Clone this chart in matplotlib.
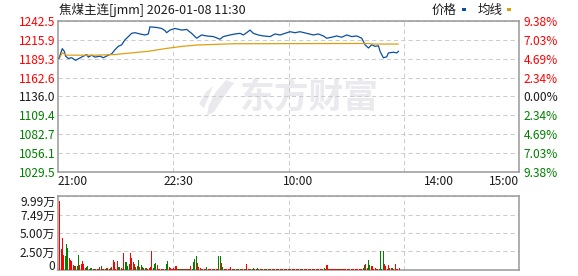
import numpy as np
import matplotlib
matplotlib.use('Agg')
import matplotlib.pyplot as plt
from matplotlib.patches import Rectangle, Polygon

plt.rcParams['font.family'] = ['Noto Sans CJK SC', 'DejaVu Sans']

# ---------------- data ----------------
title = '焦煤主连[jmm] 2026-01-08 11:30'
pre_close = 1136.0
price_ticks = [1242.5, 1215.9, 1189.3, 1162.6, 1136.0, 1109.4, 1082.7, 1056.1, 1029.5]
price_labels = ['1242.5', '1215.9', '1189.3', '1162.6', '1136.0', '1109.4', '1082.7', '1056.1', '1029.5']
pct_labels = ['9.38%', '7.03%', '4.69%', '2.34%', '0.00%', '2.34%', '4.69%', '7.03%', '9.38%']
time_ticks = [0, 90, 180, 285, 345]          # minutes since 21:00 (trading minutes)
time_labels = ['21:00', '22:30', '10:00', '14:00', '15:00']
total_minutes = 345

vol_ticks = [0, 2.50, 4.995, 7.4925, 9.99]
vol_labels = ['0', '2.50万', '5.00万', '7.49万', '9.99万']

price_min = [0.75, 3.2, 4.7, 5.7, 7.7, 10.2, 13.2, 15.7, 19.0, 21.5,
             22.7, 25.2, 27.7, 31.4, 33.9, 37.7, 40.2, 42.7, 45.1, 47.7,
             50.1, 53.9, 55.1, 57.6, 61.4, 65.1, 67.6, 68.8, 73.8, 77.6,
             80.1, 81.3, 83.8, 87.6, 92.6, 96.3, 100.0, 102.5, 103.8, 107.5,
             111.3, 116.3, 121.2, 123.7, 128.7, 132.5, 136.2, 138.7, 141.2, 143.7,
             146.2, 149.9, 153.7, 158.7, 162.4, 166.2, 169.9, 173.6, 177.4, 181.1,
             186.1, 191.1, 194.8, 198.6, 201.1, 204.8, 208.6, 212.3, 216.1, 219.8,
             223.6, 227.3, 229.8, 232.3, 234.8, 237.3, 239.8, 241.0, 243.5, 246.0,
             247.3, 251.0, 253.5, 254.8]
price_val = [1189.7, 1203.5, 1199.8, 1192.9, 1189.7, 1190.7, 1187.0, 1189.7, 1192.9, 1195.2,
             1191.5, 1194.3, 1191.5, 1192.9, 1190.7, 1194.3, 1196.2, 1202.1, 1206.7, 1209.0,
             1215.9, 1222.8, 1225.1, 1226.0, 1224.2, 1222.8, 1224.2, 1234.3, 1233.4, 1232.0,
             1228.8, 1226.0, 1229.7, 1232.0, 1229.7, 1230.6, 1225.1, 1220.5, 1218.2, 1222.8,
             1221.4, 1220.5, 1216.8, 1220.5, 1222.8, 1224.2, 1225.1, 1222.8, 1226.0, 1229.7,
             1225.1, 1222.8, 1221.4, 1220.5, 1224.2, 1222.8, 1225.1, 1227.4, 1226.0, 1227.4,
             1225.1, 1222.8, 1224.2, 1221.4, 1218.2, 1219.6, 1221.4, 1219.6, 1222.8, 1220.5,
             1221.4, 1218.2, 1209.0, 1204.4, 1209.0, 1206.7, 1207.6, 1199.8, 1190.6, 1192.0,
             1197.5, 1198.4, 1197.5, 1199.8]

avg_min = [1.5, 3.2, 6.5, 27.7, 42.7, 50.0, 67.6, 80.0, 92.6, 104.0, 131.0, 175.0, 232.0, 236.0, 254.5]
avg_val = [1191.5, 1197.6, 1194.3, 1194.3, 1195.2, 1196.6, 1199.8, 1203.5, 1206.7, 1208.6,
           1210.4, 1210.6, 1210.8, 1210.0, 1210.0]

# per-minute volume (万) and direction (1 = up/red, 0 = down/green)
vol = [9.30, 2.81, 4.31, 2.04, 1.91, 3.54, 2.95, 1.59, 1.36, 1.27, 0.68, 0.54, 0.54, 0.54, 2.04, 0.68,
       0.82, 1.23, 0.82, 0.23, 0.36, 0.54, 0.14, 0.23, 0.23, 0.14, 0.14, 0.14, 0.14, 0.14, 0.36, 0.54,
       0.14, 0.14, 0.14, 0.23, 0.23, 0.14, 0.23, 0.36, 1.36, 1.14, 0.14, 1.23, 0.36, 0.36, 0.23, 0.14,
       2.27, 1.14, 1.14, 0.54, 0.82, 2.27, 1.59, 1.14, 0.82, 0.36, 0.54, 1.36, 0.36, 0.68, 0.36, 0.23,
       0.23, 0.32, 0.14, 0.23, 0.45, 2.59, 0.23, 0.82, 1.00, 0.68, 0.14, 0.14, 0.14, 0.14, 0.14, 0.14,
       0.82, 1.23, 0.36, 0.23, 0.14, 0.23, 0.14, 0.54, 0.14, 0.14, 0.14, 0.14, 0.14, 0.14, 0.14, 0.14,
       0.14, 0.14, 0.54, 0.14, 1.14, 1.50, 1.91, 1.00, 0.36, 0.23, 0.14, 0.14, 0.14, 0.14, 0.36, 0.14,
       0.14, 0.14, 0.14, 0.14, 0.14, 0.14, 0.14, 1.91, 1.91, 1.00, 0.36, 0.14, 0.14, 0.14, 0.14, 0.14,
       0.36, 0.14, 0.14, 0.14, 0.14, 0.14, 0.14, 0.14, 0.14, 0.14, 0.14, 0.14, 0.82, 0.14, 0.14, 0.14,
       0.14, 0.23, 0.14, 0.14, 0.23, 0.14, 0.14, 0.14, 0.14, 0.14, 0.14, 0.14, 0.14, 0.14, 0.14, 0.14,
       0.14, 0.14, 0.14, 0.14, 0.14, 0.14, 0.14, 0.14, 0.14, 0.14, 0.14, 0.14, 0.14, 0.14, 0.14, 0.14,
       0.14, 0.14, 0.14, 0.14, 0.14, 0.14, 0.14, 0.14, 0.14, 0.14, 0.14, 0.14, 0.14, 0.14, 0.14, 0.14,
       0.14, 0.14, 0.14, 0.14, 0.14, 0.14, 0.23, 0.14, 0.68, 0.14, 0.14, 0.14, 0.14, 0.14, 0.14, 0.14,
       0.14, 0.14, 0.14, 0.14, 0.14, 0.14, 0.14, 0.14, 0.14, 0.14, 0.14, 0.14, 0.14, 0.14, 0.14, 0.14,
       0.14, 0.14, 0.14, 0.23, 0.68, 0.82, 0.32, 1.36, 0.68, 0.54, 0.54, 0.14, 0.32, 0.14, 0.14, 0.14,
       2.50, 0.14, 2.50, 0.82, 0.54, 0.14, 0.68, 0.32, 0.32, 0.23, 0.14, 0.82, 0.14, 0.14, 0.23]
vol_up = [1, 1, 1, 1, 0, 0, 0, 1, 1, 1, 1, 1, 0, 0, 0, 1,
          1, 1, 1, 1, 0, 0, 1, 0, 0, 1, 0, 1, 1, 0, 1, 0,
          1, 1, 1, 0, 1, 1, 0, 1, 1, 1, 1, 1, 0, 0, 1, 1,
          1, 0, 0, 0, 0, 1, 1, 1, 1, 0, 0, 0, 1, 0, 0, 1,
          0, 1, 0, 1, 1, 1, 0, 0, 0, 1, 1, 1, 1, 0, 1, 1,
          0, 0, 1, 1, 1, 1, 1, 1, 0, 0, 1, 0, 1, 0, 1, 1,
          1, 0, 1, 0, 0, 0, 0, 1, 1, 1, 0, 1, 1, 1, 0, 1,
          1, 1, 1, 0, 1, 1, 1, 0, 0, 1, 0, 1, 1, 1, 1, 1,
          1, 0, 1, 0, 1, 0, 1, 1, 0, 1, 1, 0, 1, 1, 1, 0,
          1, 0, 1, 0, 0, 1, 1, 1, 0, 0, 1, 1, 1, 0, 1, 1,
          1, 0, 1, 1, 0, 1, 1, 1, 1, 0, 1, 1, 0, 1, 1, 1,
          1, 1, 0, 1, 1, 1, 0, 1, 1, 1, 1, 0, 1, 1, 1, 0,
          1, 1, 1, 1, 1, 0, 0, 1, 1, 1, 0, 1, 1, 1, 1, 0,
          1, 1, 1, 0, 1, 1, 1, 1, 1, 1, 0, 1, 1, 1, 1, 1,
          1, 1, 1, 0, 0, 1, 1, 0, 0, 1, 1, 1, 1, 1, 0, 1,
          0, 0, 0, 1, 1, 1, 1, 0, 1, 0, 1, 1, 1, 1, 1]

# ---------------- styles ----------------
W, H = 578, 276
RED = '#ff0000'
GREEN = '#008000'
DARK = '#1a1a1a'
PRICE_C = '#0b4fa3'
AVG_C = '#e0a00e'
SPINE_C = '#999999'
GRID_C = '#cccccc'
WM_C = '#e9e9ee'
FS = 8.6

fig = plt.figure(figsize=(W / 100, H / 100), dpi=100)

def rect(l, t, r, b):
    return [l / W, 1 - b / H, (r - l) / W, (b - t) / H]

ax = fig.add_axes(rect(58, 21, 519, 172))
axv = fig.add_axes(rect(58, 196, 519, 270))

quarters = [total_minutes * k / 4 for k in (1, 2, 3)]

for a in (ax, axv):
    a.set_xlim(0, total_minutes)
    for s in a.spines.values():
        s.set_color(SPINE_C)
        s.set_linewidth(1.1)
    a.set_xticks(quarters, minor=True)
    a.grid(which='minor', axis='x', color=GRID_C, linestyle=(0, (4, 3)), linewidth=0.75)
    a.grid(which='major', axis='y', color=GRID_C, linestyle=(0, (4, 3)), linewidth=0.75)
    a.tick_params(which='both', length=0)

# ---- main price panel ----
ax.set_ylim(price_ticks[-1], price_ticks[0])
ax.set_yticks(price_ticks)
ax.set_yticklabels(price_labels, fontsize=FS)
ax.tick_params(axis='y', pad=2)
for i, lab in enumerate(ax.get_yticklabels()):
    v = price_ticks[i]
    lab.set_color(RED if v > pre_close else (DARK if v == pre_close else GREEN))

ax.set_xticks(time_ticks)
ax.set_xticklabels(time_labels, fontsize=FS, color=DARK)
ax.tick_params(axis='x', pad=2)
xl = ax.get_xticklabels()
xl[0].set_horizontalalignment('left')
xl[-1].set_horizontalalignment('right')

ax.plot(price_min, price_val, color=PRICE_C, linewidth=0.9, zorder=3)
ax.plot(avg_min, avg_val, color=AVG_C, linewidth=0.9, zorder=3)

# watermark (logo swoosh + brand text)
def fpx(x, y):
    return (x / W, 1 - y / H)
logo = Polygon([fpx(226, 80), fpx(234, 83), fpx(228, 91), fpx(221, 101), fpx(214, 112),
                fpx(207, 115), fpx(209, 105), fpx(215, 93)],
               closed=True, transform=fig.transFigure, color=WM_C, linewidth=0, zorder=0.5)
ax.add_artist(logo)
logo2 = Polygon([fpx(199, 104), fpx(206, 92), fpx(213, 86), fpx(209, 96), fpx(204, 108)],
                closed=True, transform=fig.transFigure, color=WM_C, linewidth=0, zorder=0.5)
ax.add_artist(logo2)
ax.text(240 / W, 1 - 97 / H, '东方财富', transform=fig.transFigure, fontsize=25,
        fontweight='bold', color=WM_C, ha='left', va='center', zorder=0.5)

# right percentage axis
ax2 = ax.twinx()
ax2.set_ylim(price_ticks[-1], price_ticks[0])
ax2.set_yticks(price_ticks)
ax2.set_yticklabels(pct_labels, fontsize=FS)
ax2.tick_params(axis='y', length=0, pad=3.5)
for s in ax2.spines.values():
    s.set_visible(False)
for i, lab in enumerate(ax2.get_yticklabels()):
    v = price_ticks[i]
    lab.set_color(RED if v > pre_close else (DARK if v == pre_close else GREEN))

# ---- volume panel ----
vol_x = np.arange(len(vol)) + 1.3
colors = [RED if u else GREEN for u in vol_up]
axv.bar(vol_x, vol, width=0.78, color=colors, linewidth=0, antialiased=False, zorder=3)
axv.set_ylim(0, vol_ticks[-1])
axv.set_yticks(vol_ticks)
axv.set_yticklabels(vol_labels, fontsize=FS, color=DARK)
axv.tick_params(axis='y', pad=2)
vl = axv.get_yticklabels()
vl[-1].set_verticalalignment('top')
vl[0].set_verticalalignment('baseline')
axv.set_xticks([])
axv.set_xticks(quarters, minor=True)
axv.tick_params(which='both', length=0, labelbottom=False)

# ---- title & legend ----
fig.text(59 / W, 1 - 10 / H, title, fontsize=9, color=DARK, ha='left', va='center')
fig.text(432 / W, 1 - 10 / H, '价格', fontsize=9, color=DARK, ha='left', va='center')
fig.text(478 / W, 1 - 10 / H, '均线', fontsize=9, color=DARK, ha='left', va='center')
fig.patches.append(Rectangle((462 / W, 1 - 11 / H), 4 / W, 3 / H, transform=fig.transFigure,
                             color=PRICE_C, linewidth=0))
fig.patches.append(Rectangle((507 / W, 1 - 11 / H), 4 / W, 3 / H, transform=fig.transFigure,
                             color=AVG_C, linewidth=0))

fig.savefig('out.png', dpi=100)
